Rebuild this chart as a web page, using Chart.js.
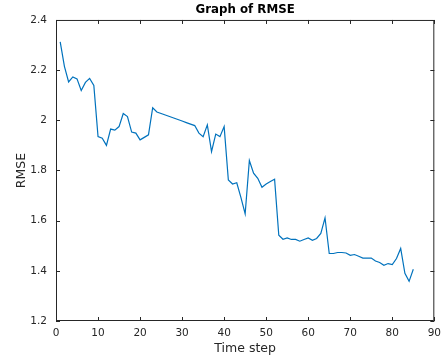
<!DOCTYPE html>
<html>
<head>
<meta charset="utf-8">
<script src="https://cdn.jsdelivr.net/npm/chart.js@4.4.1/dist/chart.umd.min.js"></script>
<style>
  html, body { margin: 0; padding: 0; background: #fff; }
  #wrap { width: 447px; height: 358px; }
</style>
</head>
<body>
<div id="wrap"><canvas id="rmse-chart" width="447" height="358"></canvas></div>
<script>
const TIME_STEPS = [
  1, 2, 3, 4, 5, 6, 7, 8, 9, 10, 11, 12, 13, 14, 15, 16, 17, 18, 19, 20,
  21, 22, 23, 24, 25, 26, 27, 28, 29, 30, 31, 32, 33, 34, 35, 36, 37, 38, 39, 40,
  41, 42, 43, 44, 45, 46, 47, 48, 49, 50, 51, 52, 53, 54, 55, 56, 57, 58, 59, 60,
  61, 62, 63, 64, 65, 66, 67, 68, 69, 70, 71, 72, 73, 74, 75, 76, 77, 78, 79, 80,
  81, 82, 83, 84, 85,
];

const RMSE_VALUES = [
  2.313, 2.215, 2.153, 2.173, 2.165, 2.119, 2.151, 2.167, 2.139, 1.935,
  1.929, 1.900, 1.965, 1.961, 1.975, 2.027, 2.015, 1.953, 1.949, 1.922,
  1.932, 1.942, 2.050, 2.033, 2.027, 2.021, 2.015, 2.009, 2.003, 1.997,
  1.991, 1.985, 1.979, 1.949, 1.935, 1.982, 1.875, 1.945, 1.935, 1.975,
  1.762, 1.746, 1.751, 1.692, 1.627, 1.840, 1.789, 1.769, 1.733, 1.746,
  1.756, 1.765, 1.542, 1.526, 1.531, 1.525, 1.525, 1.518, 1.525, 1.531,
  1.522, 1.529, 1.549, 1.611, 1.469, 1.469, 1.473, 1.473, 1.471, 1.462,
  1.465, 1.458, 1.451, 1.451, 1.451, 1.439, 1.433, 1.422, 1.429, 1.425,
  1.449, 1.489, 1.390, 1.358, 1.406,
];

const X_TICKS = [0, 10, 20, 30, 40, 50, 60, 70, 80, 90];
const Y_TICKS = [1.2, 1.4, 1.6, 1.8, 2, 2.2, 2.4];

const AXIS_COLOR = "#262626";
const LINE_COLOR = "#0072BD";
const FONT = "'DejaVu Sans', sans-serif";

// matlab style box with inward ticks on all four sides
const boxPlugin = {
  id: "matlabBox",
  afterDraw(chart) {
    const { ctx, chartArea: a, scales } = chart;
    const tick = 4;
    ctx.save();
    ctx.strokeStyle = AXIS_COLOR;
    ctx.lineWidth = 1;
    ctx.beginPath();
    ctx.rect(a.left + 0.5, a.top + 0.5, a.right - a.left - 1, a.bottom - a.top - 1);
    for (const v of X_TICKS) {
      const x = Math.round(scales.x.getPixelForValue(v)) + 0.5;
      ctx.moveTo(x, a.bottom); ctx.lineTo(x, a.bottom - tick);
      ctx.moveTo(x, a.top); ctx.lineTo(x, a.top + tick);
    }
    for (const v of Y_TICKS) {
      const y = Math.round(scales.y.getPixelForValue(v)) + 0.5;
      ctx.moveTo(a.left, y); ctx.lineTo(a.left + tick, y);
      ctx.moveTo(a.right, y); ctx.lineTo(a.right - tick, y);
    }
    ctx.stroke();
    ctx.restore();
  },
};

new Chart(document.getElementById("rmse-chart").getContext("2d"), {
  type: "line",
  data: {
    labels: TIME_STEPS,
    datasets: [{
      data: TIME_STEPS.map((t, i) => ({ x: t, y: RMSE_VALUES[i] })),
      borderColor: LINE_COLOR,
      borderWidth: 1.2,
      pointRadius: 0,
      tension: 0,
      fill: false,
    }],
  },
  options: {
    responsive: false,
    animation: false,
    layout: { padding: { left: 0, right: 10, top: 0, bottom: 0 } },
    plugins: {
      legend: { display: false },
      tooltip: { enabled: false },
      title: {
        display: true,
        text: "Graph of RMSE",
        color: "#000",
        fullSize: false,
        font: { family: FONT, size: 11.8, weight: "bold" },
        padding: { top: 3, bottom: 2.8 },
      },
    },
    scales: {
      x: {
        type: "linear",
        min: 0,
        max: 90,
        afterBuildTicks: s => { s.ticks = X_TICKS.map(v => ({ value: v })); },
        afterFit: s => { s.height = 37; },
        grid: { display: false, drawTicks: false },
        border: { display: false },
        ticks: { color: AXIS_COLOR, padding: 6, font: { family: FONT, size: 10.5 }, maxRotation: 0 },
        title: {
          display: true,
          text: "Time step",
          color: AXIS_COLOR,
          font: { family: FONT, size: 12.5 },
          padding: { top: 0, bottom: 2 },
        },
      },
      y: {
        min: 1.2,
        max: 2.4,
        afterBuildTicks: s => { s.ticks = Y_TICKS.map(v => ({ value: v })); },
        afterFit: s => { s.width = 56; },
        grid: { display: false, drawTicks: false },
        border: { display: false },
        ticks: { color: AXIS_COLOR, padding: 9, font: { family: FONT, size: 10.5 }, callback: v => String(v) },
        title: {
          display: true,
          text: "RMSE",
          color: AXIS_COLOR,
          font: { family: FONT, size: 12.5 },
          padding: { top: 14.5, bottom: 0 },
        },
      },
    },
  },
  plugins: [boxPlugin],
});
</script>
</body>
</html>
